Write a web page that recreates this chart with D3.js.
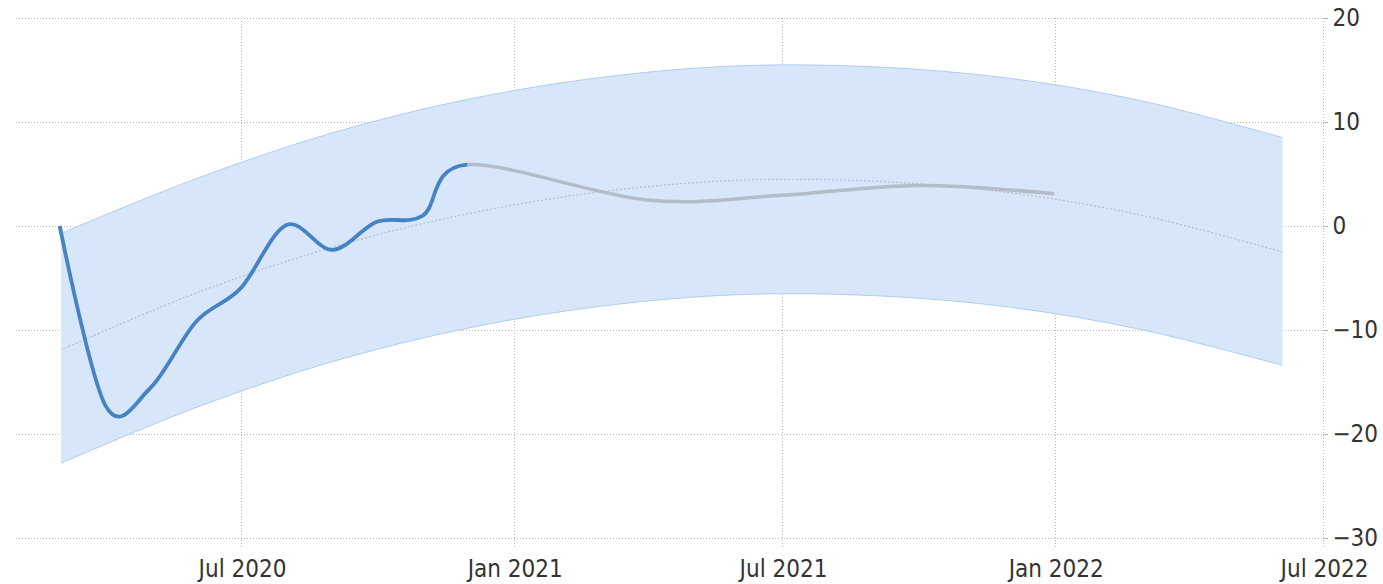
<!DOCTYPE html>
<html>
<head>
<meta charset="utf-8">
<script src="https://cdn.jsdelivr.net/npm/d3@7"></script>
<style>
	html, body { margin: 0; padding: 0; background: #fff; }
	svg { display: block; }
</style>
</head>
<body>
<div id="chart"></div>
<script>
// actual values, month end
var actualDates = ['2020-02-29', '2020-03-31', '2020-04-30', '2020-05-31', '2020-06-30',
	'2020-07-31', '2020-08-31', '2020-09-30', '2020-10-31', '2020-11-30'];
var actualValues = [0, -17.3, -15.6, -9.2, -6.0, 0.1, -2.3, 0.4, 1.0, 5.9];

// forecast, quarter end
var forecastDates = ['2021-03-31', '2021-06-30', '2021-09-30', '2021-12-31'];
var forecastValues = [2.5, 2.95, 3.9, 3.1];

// trend and band, quarterly
var bandDates = ['2020-03-01', '2020-06-01', '2020-09-01', '2020-12-01', '2021-03-01',
	'2021-06-01', '2021-09-01', '2021-12-01', '2022-03-01', '2022-06-03'];
var trendValues = [-11.9, -6.4, -2.0, 1.2, 3.3, 4.4, 4.3, 3.2, 1.0, -2.5];
var upperValues = [-0.7, 4.6, 9.0, 12.2, 14.3, 15.4, 15.3, 14.2, 12.0, 8.5];
var lowerValues = [-22.8, -17.4, -13.0, -9.8, -7.7, -6.6, -6.7, -7.8, -10.0, -13.4];

var xTicks = ['2020-07-01', '2021-01-01', '2021-07-01', '2022-01-01', '2022-07-01'];
var yTicks = [20, 10, 0, -10, -20, -30];

var parse = d3.timeParse('%Y-%m-%d');
var options = {
	width: 1383, height: 584,
	left: 16, right: 1324, top: 18, bottom: 538,
	fontFamily: '"DejaVu Sans Condensed", "DejaVu Sans", sans-serif',
	fontSize: '24px',
	grid: '#b4b4b4'
};

var x = d3.scaleTime()
	.domain([parse('2020-07-01'), parse('2022-07-01')])
	.range([242, options.right]);
var y = d3.scaleLinear()
	.domain([-30, 20])
	.range([options.bottom, options.top]);

var svg = d3.select('#chart')
	.append('svg')
	.attr('width', options.width)
	.attr('height', options.height)
	.style('font-family', options.fontFamily)
	.style('font-stretch', 'condensed');

// horizontal grid
svg.append('g')
	.selectAll('line')
	.data(yTicks)
	.enter().append('line')
	.attr('x1', options.left)
	.attr('x2', options.right + 4)
	.attr('y1', function(d) { return y(d) + 0.5; })
	.attr('y2', function(d) { return y(d) + 0.5; })
	.style('stroke', options.grid)
	.style('stroke-dasharray', '1,2');

// vertical grid
svg.append('g')
	.selectAll('line')
	.data(xTicks)
	.enter().append('line')
	.attr('x1', function(d) { return Math.round(x(parse(d))) - 0.5; })
	.attr('x2', function(d) { return Math.round(x(parse(d))) - 0.5; })
	.attr('y1', options.top)
	.attr('y2', options.bottom + 9)
	.style('stroke', options.grid)
	.style('stroke-dasharray', '1,2');

// band
var band = bandDates.map(function(d, i) {
	return { date: parse(d), hi: upperValues[i], lo: lowerValues[i], trend: trendValues[i] };
});
var bandCurve = d3.curveCatmullRom.alpha(0.5);

svg.append('path')
	.datum(band)
	.attr('d', d3.area()
		.x(function(d) { return x(d.date); })
		.y0(function(d) { return y(d.lo); })
		.y1(function(d) { return y(d.hi); })
		.curve(bandCurve))
	.style('fill', '#d7e6f9')
	.style('stroke', 'none');

['hi', 'lo'].forEach(function(key) {
	svg.append('path')
		.datum(band)
		.attr('d', d3.line()
			.x(function(d) { return x(d.date); })
			.y(function(d) { return y(d[key]); })
			.curve(bandCurve))
		.style('fill', 'none')
		.style('stroke', '#b0cdf3')
		.style('stroke-width', 1);
});

// trend
svg.append('path')
	.datum(band)
	.attr('d', d3.line()
		.x(function(d) { return x(d.date); })
		.y(function(d) { return y(d.trend); })
		.curve(bandCurve))
	.style('fill', 'none')
	.style('stroke', '#b5bec9')
	.style('stroke-width', 1.2)
	.style('stroke-dasharray', '2,2');

// one series: actual then forecast, split by clip at the last actual point
var series = actualDates.map(function(d, i) { return { date: parse(d), value: actualValues[i] }; })
	.concat(forecastDates.map(function(d, i) { return { date: parse(d), value: forecastValues[i] }; }));
var splitX = x(parse(actualDates[actualDates.length - 1]));

var defs = svg.append('defs');
defs.append('clipPath').attr('id', 'clip-actual')
	.append('rect').attr('x', 0).attr('y', 0).attr('width', splitX).attr('height', options.height);
defs.append('clipPath').attr('id', 'clip-forecast')
	.append('rect').attr('x', splitX).attr('y', 0).attr('width', options.width - splitX).attr('height', options.height);

var seriesLine = d3.line()
	.x(function(d) { return x(d.date); })
	.y(function(d) { return y(d.value); })
	.curve(d3.curveCardinal.tension(0));

svg.append('path')
	.datum(series)
	.attr('d', seriesLine)
	.attr('clip-path', 'url(#clip-forecast)')
	.style('fill', 'none')
	.style('stroke', '#b3bdca')
	.style('stroke-width', 3.5);

svg.append('path')
	.datum(series)
	.attr('d', seriesLine)
	.attr('clip-path', 'url(#clip-actual)')
	.style('fill', 'none')
	.style('stroke', '#4683c4')
	.style('stroke-width', 3.8)
	.style('stroke-linejoin', 'round');

// right axis
var yAxis = svg.append('g')
	.attr('class', 'axis y')
	.attr('transform', 'translate(' + (options.right - 0.5) + ',0)')
	.call(d3.axisRight(y).tickValues(yTicks).tickSize(4).tickPadding(5).tickFormat(d3.format('d')));
yAxis.select('.domain').remove();
yAxis.append('line')
	.attr('y1', options.top)
	.attr('y2', options.bottom + 9)
	.style('stroke', options.grid)
	.style('stroke-dasharray', '1,2');

// bottom axis
var xAxis = svg.append('g')
	.attr('class', 'axis x')
	.attr('transform', 'translate(0,' + options.bottom + ')')
	.call(d3.axisBottom(x).tickValues(xTicks.map(parse)).tickSize(0).tickPadding(22).tickFormat(d3.timeFormat('%b %Y')));
xAxis.select('.domain').remove();

svg.selectAll('.axis .tick line')
	.style('stroke', options.grid);
svg.selectAll('.axis text')
	.style('fill', '#333')
	.style('font-family', options.fontFamily)
	.style('font-size', options.fontSize);
</script>
</body>
</html>
